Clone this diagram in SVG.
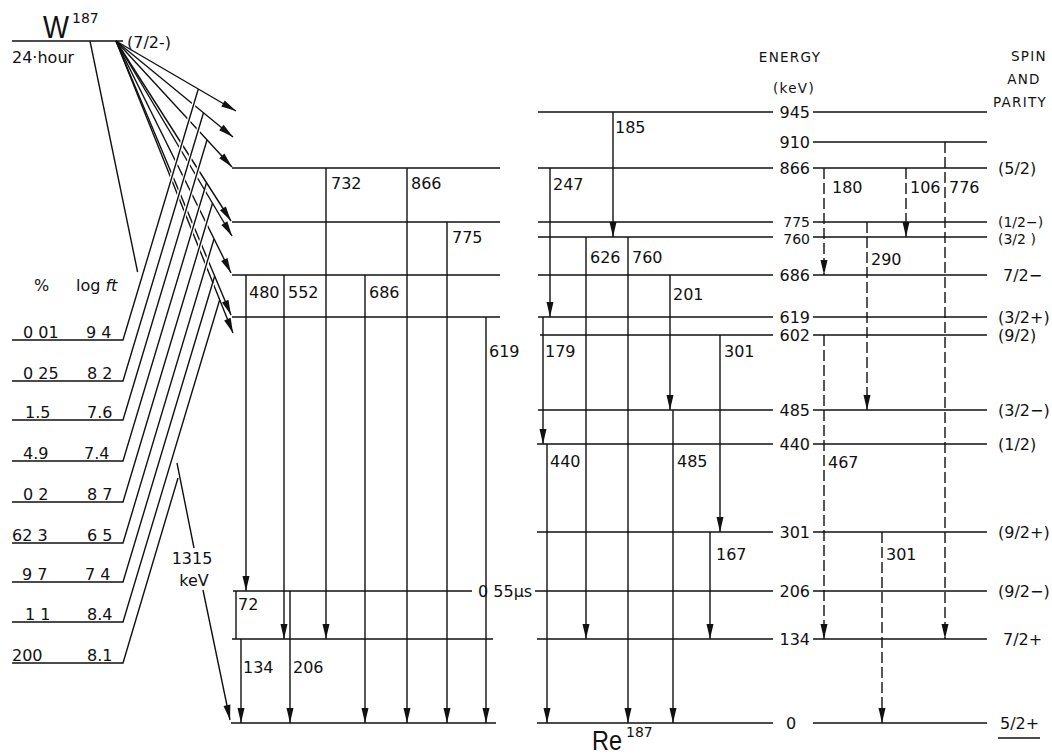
<svg xmlns="http://www.w3.org/2000/svg" width="1052" height="756" viewBox="0 0 1052 756">
<style>
.ln{stroke:#111;stroke-width:1.4;fill:none}
.lv{stroke:#111;stroke-width:1.6;fill:none}
.ds{stroke-dasharray:11 4}
.wh{stroke:#fff;stroke-width:4;fill:none}
text{font-family:"DejaVu Sans","Liberation Sans",sans-serif;font-size:16px;fill:#111}
.hd{font-size:13.5px;letter-spacing:1.3px}
.sm{font-size:14px}
.mid{text-anchor:middle}
.end{text-anchor:end}
</style>
<defs>
<marker id="ah" viewBox="-16 -4 17 8" refX="0" refY="0" markerWidth="17" markerHeight="8" markerUnits="userSpaceOnUse" orient="auto"><path d="M0,0 L-15,-3.5 L-15,3.5 Z" fill="#111"/></marker>
</defs>
<rect width="1052" height="756" fill="#fff"/>

<g id="parent-W187">
<line class="lv" x1="12" y1="41" x2="123" y2="41"/>
<text x="43" y="38" style="font-size:31px;font-family:'Liberation Sans',sans-serif" textLength="26" lengthAdjust="spacingAndGlyphs">W</text>
<text x="72" y="23" style="font-size:14px">187</text>
<text x="12" y="63">24·hour</text>
<text x="127" y="48">(7/2-)</text>
</g>

<g id="headers">
<text x="34" y="291">%</text>
<text x="76" y="291">log <tspan font-style="italic">ft</tspan></text>
<text class="hd mid" x="790" y="62">ENERGY</text>
<text class="hd mid" x="794" y="93">(keV)</text>
<text class="hd mid" x="1029" y="61">SPIN</text>
<text class="hd mid" x="1024" y="84">AND</text>
<text class="hd mid" x="1020" y="107">PARITY</text>
</g>

<g id="connectors">
<!-- beta fan arrows -->
<line class="ln" x1="116" y1="41" x2="236" y2="111" marker-end="url(#ah)"/>
<line class="ln" x1="116" y1="41" x2="233" y2="137" marker-end="url(#ah)"/>
<line class="ln" x1="116" y1="41" x2="232" y2="167" marker-end="url(#ah)"/>
<line class="ln" x1="116" y1="41" x2="231" y2="221" marker-end="url(#ah)"/>
<line class="ln" x1="116" y1="41" x2="232" y2="236" marker-end="url(#ah)"/>
<line class="ln" x1="116" y1="41" x2="231" y2="273" marker-end="url(#ah)"/>
<line class="ln" x1="116" y1="41" x2="231" y2="315" marker-end="url(#ah)"/>
<line class="ln" x1="116" y1="41" x2="233" y2="333" marker-end="url(#ah)"/>
<!-- Q line -->
<line class="ln" x1="90" y1="41" x2="137.6" y2="272"/>
<line class="ln" x1="177" y1="463" x2="194" y2="548"/>
<line class="ln" x1="203" y1="590" x2="230" y2="720" marker-end="url(#ah)"/>
<!-- crossing gaps -->
<line class="wh" x1="123" y1="340" x2="196.2" y2="96"/>
<line class="wh" x1="123" y1="381" x2="201.4" y2="119.8"/>
<line class="wh" x1="123" y1="420" x2="204.9" y2="147"/>
<line class="wh" x1="123" y1="461" x2="204.4" y2="189.7"/>
<line class="wh" x1="123" y1="502" x2="210.5" y2="210"/>
<line class="wh" x1="123" y1="543" x2="211.9" y2="246"/>
<line class="wh" x1="123" y1="582" x2="212.6" y2="283"/>
<line class="wh" x1="123" y1="622" x2="217.6" y2="306.7"/>
<!-- branch rows -->
<polyline class="ln" points="12,340 123,340 198.3,89"/>
<polyline class="ln" points="12,381 123,381 203.5,112.8"/>
<polyline class="ln" points="12,420 123,420 207,140"/>
<polyline class="ln" points="12,461 123,461 206.5,182.7"/>
<polyline class="ln" points="12,502 123,502 212.6,203"/>
<polyline class="ln" points="12,543 123,543 214,239"/>
<polyline class="ln" points="12,582 123,582 214.7,276"/>
<polyline class="ln" points="12,622 123,622 219.7,299.7"/>
<polyline class="ln" points="12,663 123,663 178,478"/>

<!-- left gamma transitions -->
<line class="ln" x1="246" y1="275" x2="246" y2="591" marker-end="url(#ah)"/>
<line class="ln" x1="284" y1="275" x2="284" y2="639" marker-end="url(#ah)"/>
<line class="ln" x1="326" y1="168" x2="326" y2="639" marker-end="url(#ah)"/>
<line class="ln" x1="365" y1="275" x2="365" y2="723" marker-end="url(#ah)"/>
<line class="ln" x1="407" y1="168" x2="407" y2="723" marker-end="url(#ah)"/>
<line class="ln" x1="447" y1="222" x2="447" y2="723" marker-end="url(#ah)"/>
<line class="ln" x1="486" y1="317" x2="486" y2="723" marker-end="url(#ah)"/>
<line class="ln" x1="236" y1="591" x2="236" y2="639"/>
<line class="ln" x1="241" y1="639" x2="241" y2="723" marker-end="url(#ah)"/>
<line class="ln" x1="290" y1="591" x2="290" y2="723" marker-end="url(#ah)"/>

<!-- middle gamma transitions -->
<line class="ln" x1="613" y1="112" x2="613" y2="237" marker-end="url(#ah)"/>
<line class="ln" x1="550" y1="168" x2="550" y2="317" marker-end="url(#ah)"/>
<line class="ln" x1="543" y1="317" x2="543" y2="444" marker-end="url(#ah)"/>
<line class="ln" x1="547" y1="444" x2="547" y2="723" marker-end="url(#ah)"/>
<line class="ln" x1="586" y1="237" x2="586" y2="639" marker-end="url(#ah)"/>
<line class="ln" x1="628" y1="237" x2="628" y2="723" marker-end="url(#ah)"/>
<line class="ln" x1="670" y1="275" x2="670" y2="410" marker-end="url(#ah)"/>
<line class="ln" x1="673" y1="410" x2="673" y2="723" marker-end="url(#ah)"/>
<line class="ln" x1="720" y1="335" x2="720" y2="532" marker-end="url(#ah)"/>
<line class="ln" x1="710" y1="532" x2="710" y2="639" marker-end="url(#ah)"/>

<!-- right dashed transitions -->
<line class="ln ds" x1="824" y1="168" x2="824" y2="275" marker-end="url(#ah)"/>
<line class="ln ds" x1="906" y1="168" x2="906" y2="237" marker-end="url(#ah)"/>
<line class="ln ds" x1="945" y1="142" x2="945" y2="639" marker-end="url(#ah)"/>
<line class="ln ds" x1="867" y1="222" x2="867" y2="410" marker-end="url(#ah)"/>
<line class="ln ds" x1="824" y1="335" x2="824" y2="639" marker-end="url(#ah)"/>
<line class="ln ds" x1="882" y1="532" x2="882" y2="723" marker-end="url(#ah)"/>
</g>

<g id="branch-labels">
<text x="23" y="338">0 01</text><text x="86" y="338">9 4</text>
<text x="23" y="379">0 25</text><text x="87" y="379">8 2</text>
<text x="25" y="418">1.5</text><text x="87" y="418">7.6</text>
<text x="23" y="459">4.9</text><text x="84" y="459">7.4</text>
<text x="23" y="500">0 2</text><text x="87" y="500">8 7</text>
<text x="12" y="541">62 3</text><text x="87" y="541">6 5</text>
<text x="22" y="580">9 7</text><text x="85" y="580">7 4</text>
<text x="25" y="620">1 1</text><text x="87" y="620">8.4</text>
<text x="12" y="661">200</text><text x="87" y="661">8.1</text>
<text class="mid" x="192" y="564">1315</text>
<text class="mid" x="194" y="586">keV</text>
</g>

<g id="gamma-labels">
<text x="331" y="189">732</text>
<text x="411" y="189">866</text>
<text x="452" y="243">775</text>
<text x="249" y="298">480</text>
<text x="288" y="298">552</text>
<text x="369" y="298">686</text>
<text x="489" y="357">619</text>
<text x="238" y="610">72</text>
<text x="243" y="673">134</text>
<text x="293" y="673">206</text>
<text x="615" y="133">185</text>
<text x="553" y="190">247</text>
<text x="590" y="263">626</text>
<text x="632" y="263">760</text>
<text x="673" y="300">201</text>
<text x="545" y="357">179</text>
<text x="724" y="357">301</text>
<text x="550" y="467">440</text>
<text x="677" y="467">485</text>
<text x="716" y="560">167</text>
<text x="832" y="193">180</text>
<text x="910" y="193">106</text>
<text x="949" y="193">776</text>
<text x="871" y="265">290</text>
<text x="828" y="468">467</text>
<text x="886" y="560">301</text>
</g>

<g id="lvl-945"><line class="lv" x1="538" y1="112" x2="773" y2="112"/><text class="end" x="810" y="118">945</text><line class="lv" x1="813" y1="112" x2="987" y2="112"/></g>
<g id="lvl-910"><text class="end" x="810" y="148">910</text><line class="lv" x1="813" y1="142" x2="987" y2="142"/></g>
<g id="lvl-866"><line class="lv" x1="232" y1="168" x2="500" y2="168"/><line class="lv" x1="538" y1="168" x2="773" y2="168"/><text class="end" x="810" y="174">866</text><line class="lv" x1="813" y1="168" x2="987" y2="168"/><text x="998" y="174">(5/2)</text></g>
<g id="lvl-775"><line class="lv" x1="232" y1="222" x2="500" y2="222"/><line class="lv" x1="538" y1="222" x2="773" y2="222"/><text class="end sm" x="810" y="227">775</text><line class="lv" x1="813" y1="222" x2="987" y2="222"/><text class="sm" x="998" y="227">(1/2−)</text></g>
<g id="lvl-760"><line class="lv" x1="538" y1="237" x2="773" y2="237"/><text class="end sm" x="810" y="243.5">760</text><line class="lv" x1="813" y1="237" x2="987" y2="237"/><text class="sm" x="998" y="243.5">(3/2 )</text></g>
<g id="lvl-686"><line class="lv" x1="232" y1="275" x2="500" y2="275"/><line class="lv" x1="538" y1="275" x2="773" y2="275"/><text class="end" x="810" y="281">686</text><line class="lv" x1="813" y1="275" x2="987" y2="275"/><text x="1003" y="281">7/2−</text></g>
<g id="lvl-619"><line class="lv" x1="232" y1="317" x2="500" y2="317"/><line class="lv" x1="538" y1="317" x2="773" y2="317"/><text class="end" x="810" y="323">619</text><line class="lv" x1="813" y1="317" x2="987" y2="317"/><text x="998" y="323">(3/2+)</text></g>
<g id="lvl-602"><line class="lv" x1="540" y1="335" x2="773" y2="335"/><text class="end" x="810" y="341">602</text><line class="lv" x1="813" y1="335" x2="987" y2="335"/><text x="998" y="341">(9/2)</text></g>
<g id="lvl-485"><line class="lv" x1="538" y1="410" x2="773" y2="410"/><text class="end" x="810" y="416">485</text><line class="lv" x1="813" y1="410" x2="987" y2="410"/><text x="998" y="416">(3/2−)</text></g>
<g id="lvl-440"><line class="lv" x1="537" y1="444" x2="773" y2="444"/><text class="end" x="810" y="450">440</text><line class="lv" x1="813" y1="444" x2="987" y2="444"/><text x="998" y="450">(1/2)</text></g>
<g id="lvl-301"><line class="lv" x1="537" y1="532" x2="773" y2="532"/><text class="end" x="810" y="538">301</text><line class="lv" x1="813" y1="532" x2="987" y2="532"/><text x="998" y="538">(9/2+)</text></g>
<g id="lvl-206"><line class="lv" x1="233" y1="591" x2="472" y2="591"/><text x="478" y="597">0 55μs</text><line class="lv" x1="535" y1="591" x2="773" y2="591"/><text class="end" x="810" y="597">206</text><line class="lv" x1="813" y1="591" x2="987" y2="591"/><text x="998" y="597">(9/2−)</text></g>
<g id="lvl-134"><line class="lv" x1="232" y1="639" x2="493" y2="639"/><line class="lv" x1="537" y1="639" x2="773" y2="639"/><text class="end" x="810" y="645">134</text><line class="lv" x1="813" y1="639" x2="987" y2="639"/><text x="1003" y="645">7/2+</text></g>
<g id="lvl-0"><line class="lv" x1="231" y1="723" x2="496" y2="723"/><line class="lv" x1="537" y1="723" x2="773" y2="723"/><text class="mid" x="791" y="729">0</text><line class="lv" x1="813" y1="723" x2="987" y2="723"/><text x="1000" y="729">5/2+</text><line class="ln" x1="998" y1="738" x2="1040" y2="738"/></g>

<g id="daughter-Re187">
<text x="592" y="750" style="font-size:28px;font-family:'Liberation Sans',sans-serif" textLength="30" lengthAdjust="spacingAndGlyphs">Re</text>
<text x="626" y="737" style="font-size:14px">187</text>
</g>
</svg>
